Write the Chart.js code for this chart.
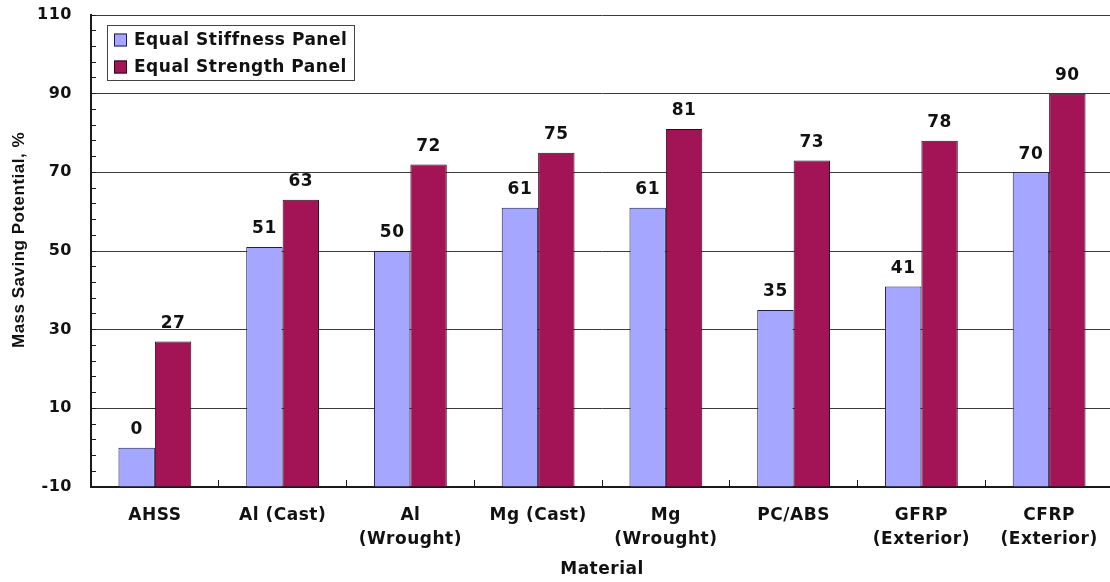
<!DOCTYPE html>
<html>
<head>
<meta charset="utf-8">
<script src="https://cdn.jsdelivr.net/npm/chart.js@4/dist/chart.umd.min.js"></script>
<style>
  html, body { margin: 0; padding: 0; background: #fff; overflow: hidden; }
  canvas { display: block; }
</style>
</head>
<body>
<canvas id="chart" width="1113" height="582" style="width:1113px;height:582px"></canvas>
<script>
// Material categories (multi-line where the name wraps)
const materials = ['AHSS', 'Al (Cast)', ['Al', '(Wrought)'], 'Mg (Cast)', ['Mg', '(Wrought)'],
                   'PC/ABS', ['GFRP', '(Exterior)'], ['CFRP', '(Exterior)']];

// Mass saving potential, %
const stiffnessSaving = [0, 51, 50, 61, 61, 35, 41, 70];
const strengthSaving  = [27, 63, 72, 75, 81, 73, 78, 90];

const seriesNames = ['Equal Stiffness Panel', 'Equal Strength Panel'];
const valueAxisTitle = 'Mass Saving Potential, %';
const categoryAxisTitle = 'Material';

// Value axis range and tick spacing
const yMin = -10;
const yMax = 110;
const yMajorStep = 20;
const yMinorStep = 4;

const FACE = "'DejaVu Sans', 'Liberation Sans', Arial, sans-serif";
const ARIAL = "'Liberation Sans', Arial, sans-serif";
const INK = '#1a1a1a';
const GRID = '#3a3a3a';
const isMajor = v => Math.abs(((v - yMin) % yMajorStep)) < 1e-6;

// Slightly spaced-out lettering for all canvas text
const letterSpacingPlugin = {
  id: 'letterSpacing',
  beforeLayout(chart) { chart.ctx.letterSpacing = '0.5px'; },
  beforeDraw(chart) { chart.ctx.letterSpacing = '0.5px'; }
};

// Value printed above each bar
const valueLabelPlugin = {
  id: 'valueLabels',
  afterDatasetsDraw(chart) {
    const ctx = chart.ctx;
    ctx.save();
    ctx.font = 'bold 17px ' + FACE;
    ctx.fillStyle = '#111';
    ctx.textAlign = 'center';
    ctx.textBaseline = 'middle';
    chart.data.datasets.forEach((ds, i) => {
      chart.getDatasetMeta(i).data.forEach((bar, j) => {
        ctx.fillText(String(ds.data[j]), bar.x, bar.y - 18);
      });
    });
    ctx.restore();
  }
};

// Rotated title beside the value axis
const valueAxisTitlePlugin = {
  id: 'valueAxisTitle',
  afterDraw(chart) {
    const ctx = chart.ctx;
    const area = chart.chartArea;
    ctx.save();
    ctx.translate(19, (area.top + area.bottom) / 2 - 11);
    ctx.rotate(-Math.PI / 2);
    ctx.font = 'bold 17px ' + ARIAL;
    ctx.fillStyle = '#111';
    ctx.textAlign = 'center';
    ctx.textBaseline = 'middle';
    ctx.fillText(valueAxisTitle, 0, 0);
    ctx.restore();
  }
};

// Boxed legend in the upper-left corner of the plot
const boxLegendPlugin = {
  id: 'boxLegend',
  afterDraw(chart) {
    const ctx = chart.ctx;
    const area = chart.chartArea;
    const x0 = area.left + 16, y0 = area.top + 10;
    const w = 247, h = 55;
    ctx.save();
    ctx.fillStyle = '#fff';
    ctx.fillRect(x0, y0, w, h);
    ctx.strokeStyle = '#444';
    ctx.lineWidth = 1;
    ctx.strokeRect(x0 + 0.5, y0 + 0.5, w, h);
    ctx.font = 'bold 17px ' + FACE;
    ctx.textAlign = 'left';
    ctx.textBaseline = 'middle';
    chart.data.datasets.forEach((ds, i) => {
      const cy = y0 + 15 + i * 27;
      ctx.fillStyle = ds.backgroundColor;
      ctx.fillRect(x0 + 7, cy - 6.5, 13, 13);
      ctx.strokeStyle = ds.borderColor;
      ctx.strokeRect(x0 + 7.5, cy - 6, 12, 12);
      ctx.fillStyle = '#111';
      ctx.fillText(ds.label, x0 + 27, cy + 1);
    });
    ctx.restore();
  }
};

new Chart(document.getElementById('chart'), {
  type: 'bar',
  data: {
    labels: materials,
    datasets: [
      {
        label: seriesNames[0],
        data: stiffnessSaving,
        base: yMin,
        backgroundColor: '#A5A6FF',
        borderColor: '#1e1e4e',
        borderWidth: 1
      },
      {
        label: seriesNames[1],
        data: strengthSaving,
        base: yMin,
        backgroundColor: '#A31456',
        borderColor: '#2a0a18',
        borderWidth: 1
      }
    ]
  },
  options: {
    responsive: false,
    animation: false,
    devicePixelRatio: 1,
    categoryPercentage: 0.57,
    barPercentage: 1.0,
    layout: { padding: { top: 15, right: 0, left: 0, bottom: 0 } },
    plugins: {
      legend: { display: false },
      tooltip: { enabled: false }
    },
    scales: {
      x: {
        type: 'category',
        offset: true,
        grid: {
          offset: true,
          drawOnChartArea: false,
          color: 'rgba(0,0,0,0)',
          tickColor: INK,
          tickLength: -7,
          tickWidth: 1
        },
        border: { color: INK, width: 2 },
        ticks: {
          color: '#111',
          font: { family: FACE, size: 17, weight: 'bold', lineHeight: 1.45 },
          padding: 23,
          maxRotation: 0,
          autoSkip: false
        },
        title: {
          display: true,
          text: categoryAxisTitle,
          color: '#111',
          font: { family: FACE, size: 17, weight: 'bold', lineHeight: 1.2 },
          padding: { top: 0, bottom: 2 }
        },
        afterFit(scale) {
          scale.height = 95;
          scale.paddingLeft = 0;
          scale.paddingRight = 0;
        }
      },
      y: {
        type: 'linear',
        min: yMin,
        max: yMax,
        grid: {
          color: ctx => (ctx.tick && isMajor(ctx.tick.value)) ? GRID : 'rgba(0,0,0,0)',
          tickColor: INK,
          tickLength: -5,
          lineWidth: 1,
          tickWidth: 1
        },
        border: { color: INK, width: 2 },
        ticks: {
          stepSize: yMinorStep,
          autoSkip: false,
          color: '#111',
          font: { family: FACE, size: 16, weight: 'bold' },
          padding: 24,
          callback: v => isMajor(v) ? String(Math.round(v)) : ''
        },
        title: { display: false },
        afterFit(scale) {
          scale.width = 91;
          scale.paddingTop = 0;
          scale.paddingBottom = 0;
        }
      }
    }
  },
  plugins: [letterSpacingPlugin, valueLabelPlugin, valueAxisTitlePlugin, boxLegendPlugin]
});
</script>
</body>
</html>
